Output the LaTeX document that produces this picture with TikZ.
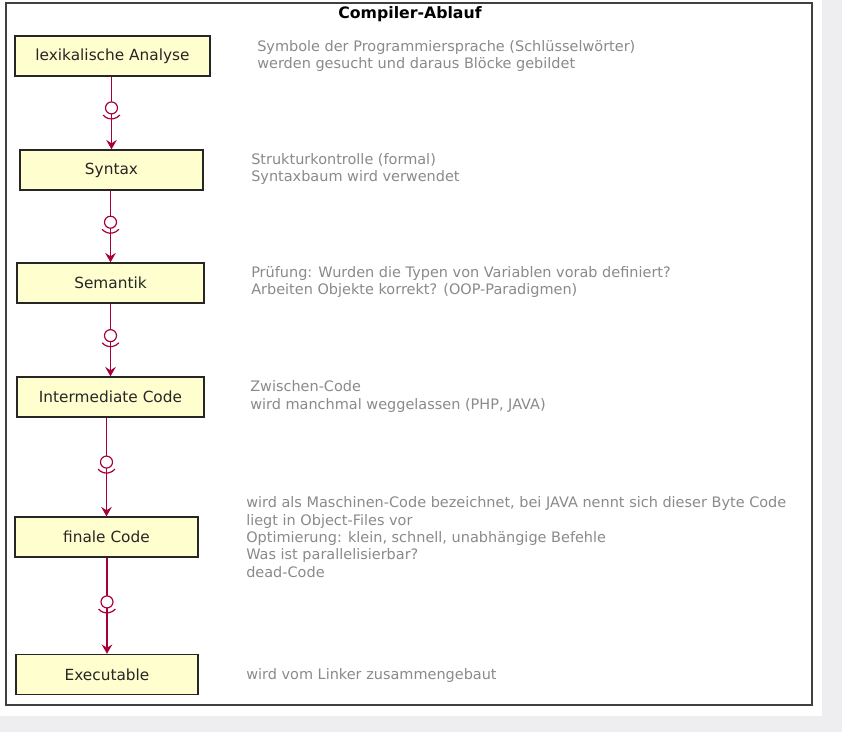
\documentclass[tikz,border=0pt]{standalone}
\usepackage{fontspec}
\setmainfont{DejaVu Sans}
\usetikzlibrary{arrows.meta}
\definecolor{pfeilrot}{HTML}{A80036}
\definecolor{kastengelb}{HTML}{FEFECE}
\definecolor{notizgrau}{HTML}{8A8A8A}
\definecolor{randgrau}{HTML}{EEEDF0}

\begin{document}
\begin{tikzpicture}[x=0.75pt,y=-0.75pt,
 schritt/.style={draw=black!85,fill=kastengelb,line width=1.1pt,minimum height=30pt,inner sep=0pt,text=black!85,font=\fontsize{11.5}{13}\selectfont},
 notiz/.style={anchor=west,align=left,inner sep=0pt,text=notizgrau,font=\fontsize{10.85}{13}\selectfont},
 fluss/.style={draw=pfeilrot,line width=0.9pt,-{Stealth[length=7pt,width=8pt,inset=2.5pt]}},
 lolli/.style={circle,draw=pfeilrot,fill=white,line width=0.9pt,minimum size=9pt,inner sep=0pt},
 bogen/.style={draw=pfeilrot,line width=0.9pt}]
 \useasboundingbox (0,0) rectangle (842,732);
 \fill[randgrau] (0,0) rectangle (842,732); %Hintergrund
 \fill[white] (0,0) rectangle (822,716);
 \draw[line width=1.1pt,draw=black!75] (6,3) rectangle (812,705); %Rahmen
 \node[font=\bfseries\fontsize{11.8}{13}\selectfont] (titel) at (410,14) {Compiler-Ablauf};

 %Schritte
 \node[schritt,minimum width=146.25pt] (lex) at (112.5,56) {lexikalische Analyse};
 \node[schritt,minimum width=137.25pt] (syn) at (111.5,170) {Syntax};
 \node[schritt,minimum width=140.25pt] (sem) at (110.5,283) {Semantik};
 \node[schritt,minimum width=140.25pt] (int) at (110.5,397) {Intermediate Code};
 \node[schritt,minimum width=137.25pt] (fin) at (106.5,537) {finale Code};
 \node[schritt,minimum width=136.5pt] (exe) at (107,674.5) {Executable};

 %Notizen
 \node[notiz] (n1) at (257,56) {Symbole der Programmiersprache (Schlüsselwörter)\\werden gesucht und daraus Blöcke gebildet};
 \node[notiz] (n2) at (251,169) {Strukturkontrolle (formal)\\Syntaxbaum wird verwendet};
 \node[notiz] (n3) at (251,282) {Prüfung: Wurden die Typen von Variablen vorab definiert?\\Arbeiten Objekte korrekt? (OOP-Paradigmen)};
 \node[notiz] (n4) at (250,396.5) {Zwischen-Code\\wird manchmal weggelassen (PHP, JAVA)};
 \node[notiz] (n5) at (246,537) {wird als Maschinen-Code bezeichnet, bei JAVA nennt sich dieser Byte Code\\liegt in Object-Files vor\\Optimierung: klein, schnell, unabhängige Befehle\\Was ist parallelisierbar?\\dead-Code};
 \node[notiz] (n6) at (246,675) {wird vom Linker zusammengebaut};

 %Pfeile mit Lollipop
 \draw[fluss] (syn.north |- lex.south) -- node[pos=0.43,lolli] (l1) {} (syn.north);
 \draw[fluss] (sem.north |- syn.south) -- node[pos=0.44,lolli] (l2) {} (sem.north);
 \draw[fluss] (int.north |- sem.south) -- node[pos=0.44,lolli] (l3) {} (int.north);
 \draw[fluss] (fin.north |- int.south) -- node[pos=0.45,lolli] (l4) {} (fin.north);
 \draw[fluss] (exe.north |- fin.south) -- node[pos=0.46,lolli] (l5) {} (exe.north);
 \foreach \l in {l1,l2,l3,l4,l5}
  \draw[bogen] ([shift={(-6.32pt,-5.3pt)}]\l.center) arc[start angle=220,end angle=320,radius=8.25pt];
\end{tikzpicture}
\end{document}
